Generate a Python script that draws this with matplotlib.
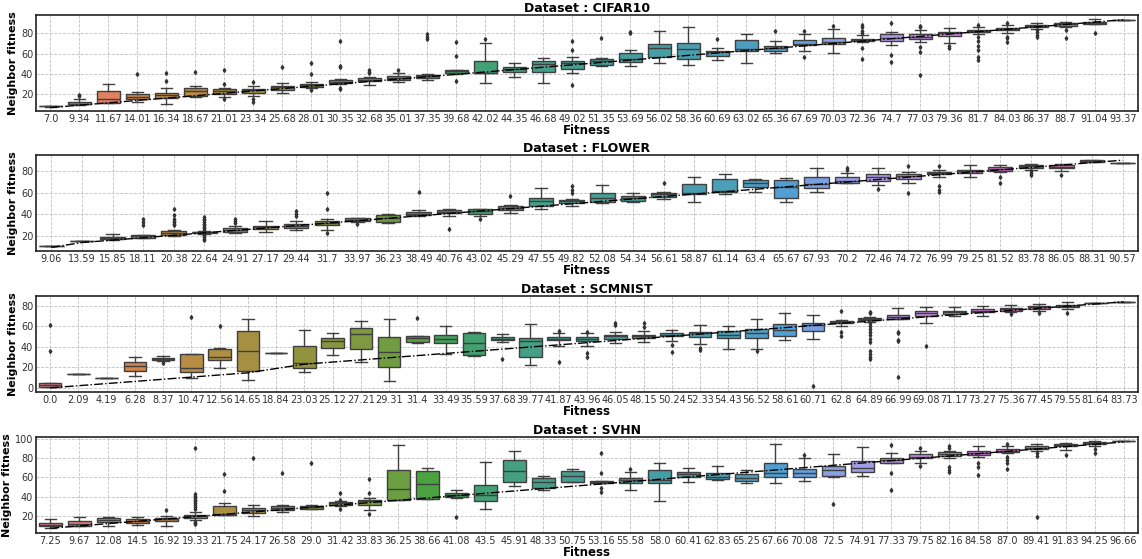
import matplotlib
matplotlib.use("Agg")
import matplotlib.pyplot as plt
import colorsys
import seaborn as sns

# ---------------- CIFAR10 ----------------
cifar_labels = ["7.0", "9.34", "11.67", "14.01", "16.34", "18.67", "21.01", "23.34", "25.68", "28.01",
                "30.35", "32.68", "35.01", "37.35", "39.68", "42.02", "44.35", "46.68", "49.02", "51.35",
                "53.69", "56.02", "58.36", "60.69", "63.02", "65.36", "67.69", "70.03", "72.36", "74.7",
                "77.03", "79.36", "81.7", "84.03", "86.37", "88.7", "91.04", "93.37"]
cifar_q1 = [8.3, 10.2, 11.1, 15.4, 16.1, 18.0, 20.0, 21.6, 24.3, 26.9, 30.8, 33.0, 34.0, 36.4, 41.3, 40.7,
            42.3, 42.0, 45.0, 48.5, 51.8, 56.4, 55.0, 58.0, 63.0, 63.0, 68.5, 69.8, 72.1, 72.8, 74.8, 77.7,
            81.3, 83.0, 85.9, 87.5, 89.5, 93.1]
cifar_med = [8.5, 10.8, 15.0, 17.7, 19.0, 23.3, 23.6, 24.3, 26.9, 28.9, 32.5, 34.4, 36.0, 38.0, 42.6, 41.0,
             44.6, 49.8, 51.0, 53.1, 54.4, 65.2, 64.3, 61.3, 64.6, 65.9, 69.8, 71.1, 73.4, 75.7, 76.7, 80.0,
             82.6, 84.3, 87.2, 88.9, 90.2, 93.2]
cifar_q3 = [8.7, 12.5, 23.6, 20.0, 21.3, 25.9, 25.2, 25.6, 28.2, 30.2, 33.8, 36.0, 37.7, 39.3, 43.6, 53.1,
            46.6, 52.5, 52.8, 54.4, 60.3, 69.8, 70.2, 63.0, 73.1, 67.9, 73.1, 75.1, 74.8, 79.3, 79.0, 81.6,
            83.6, 85.2, 88.2, 89.8, 90.8, 93.3]
cifar_lo = [8.0, 10.0, 11.0, 12.8, 10.2, 17.7, 17.7, 18.7, 21.0, 26.6, 29.8, 29.0, 32.5, 34.4, 40.0, 30.8,
            37.4, 30.8, 40.7, 48.2, 47.9, 50.5, 48.5, 53.4, 50.5, 60.3, 62.6, 61.0, 71.8, 68.5, 71.0, 70.8,
            79.0, 80.0, 84.3, 86.6, 89.2, 93.0]
cifar_hi = [9.0, 15.0, 29.8, 22.0, 25.9, 27.9, 26.0, 27.9, 30.8, 31.8, 34.8, 37.4, 40.7, 40.0, 44.0, 70.8,
            50.5, 55.4, 56.4, 55.4, 63.6, 82.6, 86.6, 65.9, 79.7, 72.5, 79.0, 84.0, 78.4, 81.6, 83.3, 85.2,
            86.6, 87.9, 89.8, 90.8, 94.0, 93.4]
cifar_fliers = [[], [18.7, 19.7], [], [40.0], [40.7, 33.0], [41.6], [44.0, 30.0, 15.7], [31.8, 15.0, 12.8],
                [46.9], [51.0, 40.0, 24.3], [72.0, 47.9, 47.2, 26.6, 25.0], [44.0, 42.0, 40.7], [44.0],
                [79.0, 76.7, 74.4], [71.8, 57.7, 33.4], [74.8], [], [], [72.8, 63.6, 29.0], [75.7],
                [81.0, 80.0], [], [], [74.8], [], [82.6], [82.3, 57.0], [87.5],
                [88.5, 86.6, 82.6, 80.0, 65.2, 54.4], [89.8, 58.7, 52.1], [87.2, 85.9, 66.9, 62.0, 39.0],
                [68.0, 66.0], [88.5, 76.7, 72.0, 68.0, 64.0, 57.0, 53.8], [90.5, 76.7, 75.0, 71.8],
                [83.3, 81.0, 78.4, 76.7], [83.3, 75.0], [80.0], []]

# ---------------- FLOWER ----------------
flower_labels = ["9.06", "13.59", "15.85", "18.11", "20.38", "22.64", "24.91", "27.17", "29.44", "31.7",
                 "33.97", "36.23", "38.49", "40.76", "43.02", "45.29", "47.55", "49.82", "52.08", "54.34",
                 "56.61", "58.87", "61.14", "63.4", "65.67", "67.93", "70.2", "72.46", "74.72", "76.99",
                 "79.25", "81.52", "83.78", "86.05", "88.31", "90.57"]
flower_q1 = [10.8, 14.9, 16.5, 18.0, 20.9, 22.6, 23.4, 26.2, 27.2, 29.7, 33.8, 32.8, 39.4, 41.3, 40.7, 43.8,
             47.9, 50.8, 51.7, 52.6, 55.8, 58.9, 61.1, 65.2, 54.8, 64.9, 69.6, 71.5, 72.8, 77.2, 78.4, 80.0,
             83.1, 83.1, 89.1, 87.5]
flower_med = [10.8, 14.9, 17.4, 19.3, 22.5, 23.0, 25.0, 28.1, 29.0, 32.2, 34.7, 36.9, 40.7, 42.3, 43.2, 46.0,
              52.3, 52.0, 54.8, 55.5, 58.9, 59.6, 62.0, 69.6, 65.8, 68.0, 71.5, 75.3, 75.9, 78.4, 80.0, 82.2,
              84.7, 84.1, 89.7, 87.5]
flower_q3 = [10.8, 14.9, 18.7, 20.6, 24.0, 23.4, 26.9, 29.4, 30.6, 33.8, 36.6, 39.4, 42.3, 43.8, 44.8, 47.9,
             54.8, 53.3, 59.6, 57.4, 60.2, 68.7, 72.8, 71.8, 72.1, 74.7, 74.7, 77.2, 77.8, 79.7, 81.6, 84.1,
             85.7, 85.7, 90.4, 87.5]
flower_lo = [10.8, 14.9, 16.2, 17.5, 19.6, 22.0, 22.5, 23.4, 25.0, 25.6, 32.8, 31.9, 38.2, 38.8, 38.2, 41.3,
             44.5, 47.6, 50.8, 51.4, 54.5, 51.1, 58.9, 60.5, 51.7, 61.1, 69.0, 67.4, 69.0, 75.3, 74.7, 79.4,
             81.6, 80.9, 88.8, 87.5]
flower_hi = [10.8, 14.9, 21.8, 21.0, 25.0, 24.0, 28.7, 33.5, 33.5, 35.3, 36.9, 40.0, 43.8, 44.5, 45.4, 48.6,
             64.3, 53.9, 67.4, 59.6, 60.8, 75.3, 77.5, 73.4, 73.7, 83.1, 79.0, 82.8, 79.7, 81.6, 85.7, 86.0,
             86.9, 87.2, 90.6, 87.5]
flower_fliers = [[], [], [], [35.7, 32.5, 29.7], [44.5, 39.0, 36.0, 34.0, 33.0, 31.0, 30.0],
                 [37.5, 36.0, 35.0, 33.0, 31.0, 30.0, 28.0, 27.0, 25.0, 21.0, 19.0, 17.0, 16.0],
                 [35.3, 33.8, 32.2], [], [42.9, 40.7, 38.2], [60.2, 44.5, 22.5], [30.6], [], [60.8], [25.9],
                 [35.3], [57.0], [], [66.2, 63.0, 60.2], [], [], [69.0], [], [], [], [], [], [83.0, 81.6],
                 [63.3], [85.3, 60.2], [84.7, 66.0, 63.0, 61.0], [], [74.7, 69.6], [80.0, 78.4, 76.9],
                 [76.9], [], []]

# ---------------- SCMNIST ----------------
scm_labels = ["0.0", "2.09", "4.19", "6.28", "8.37", "10.47", "12.56", "14.65", "18.84", "23.03", "25.12",
              "27.21", "29.31", "31.4", "33.49", "35.59", "37.68", "39.77", "41.87", "43.96", "46.05",
              "48.15", "50.24", "52.33", "54.43", "56.52", "58.61", "60.71", "62.8", "64.89", "66.99",
              "69.08", "71.17", "73.27", "75.36", "77.45", "79.55", "81.64", "83.73"]
scm_q1 = [1.0, 13.5, 9.4, 16.8, 27.4, 15.2, 26.8, 16.1, 33.5, 19.4, 38.4, 38.0, 20.3, 44.5, 43.5, 31.9, 46.1,
          30.0, 46.1, 45.2, 47.4, 48.7, 50.0, 49.4, 48.4, 48.4, 50.0, 55.8, 62.9, 66.1, 67.4, 70.0, 71.9,
          73.5, 75.2, 77.1, 78.4, 82.3, 83.5]
scm_med = [2.9, 13.5, 9.4, 21.6, 28.0, 19.4, 29.7, 36.1, 33.5, 24.2, 45.5, 52.6, 34.5, 48.4, 47.4, 43.5, 47.7,
           45.2, 48.0, 48.0, 50.0, 50.6, 51.9, 53.2, 51.3, 53.2, 56.5, 61.3, 64.2, 67.1, 68.7, 72.6, 73.5,
           75.2, 76.5, 78.4, 79.7, 82.6, 83.5]
scm_q3 = [4.5, 13.5, 9.4, 25.5, 28.7, 32.9, 37.7, 55.8, 33.5, 40.3, 49.0, 58.0, 49.4, 50.0, 51.0, 53.5, 49.4,
          48.4, 49.4, 49.4, 51.3, 51.6, 53.2, 54.8, 55.8, 56.8, 61.9, 63.5, 65.5, 67.7, 71.0, 75.2, 75.2,
          76.5, 77.7, 79.7, 81.0, 82.9, 83.5]
scm_lo = [1.0, 13.5, 9.4, 11.3, 26.5, 9.7, 19.4, 8.1, 33.5, 15.2, 31.9, 24.8, 7.1, 44.0, 33.2, 31.3, 44.2,
          22.6, 40.3, 40.3, 43.2, 44.2, 45.8, 42.9, 37.7, 37.7, 46.8, 47.4, 60.3, 64.5, 66.8, 62.9, 70.0,
          70.0, 73.5, 75.2, 76.5, 82.3, 83.5]
scm_hi = [4.8, 13.5, 9.4, 30.0, 31.0, 32.9, 38.7, 67.4, 33.5, 56.5, 53.2, 64.8, 67.0, 50.5, 60.0, 54.8, 52.3,
          62.3, 53.2, 53.2, 54.8, 55.5, 56.5, 61.0, 60.0, 66.8, 72.6, 71.3, 66.0, 69.4, 77.4, 78.4, 78.4,
          80.0, 81.0, 82.0, 83.9, 82.9, 83.5]
scm_fliers = [[61.5, 36.0], [], [], [], [24.2], [68.7], [60.0], [], [], [], [], [], [], [67.7], [], [],
              [28.0], [], [55.5, 24.8], [54.8, 33.9, 30.0], [63.5, 61.0], [63.2, 59.7], [42.0, 34.5],
              [38.4, 36.5], [], [35.5], [], [1.6], [74.8, 54.8, 50.0],
              [74.2, 72.6, 62.9, 60.0, 57.0, 54.0, 51.0, 48.0, 45.0, 36.0, 33.0, 30.0, 28.0],
              [54.8, 53.2, 46.8, 45.2, 10.6], [40.3], [], [], [71.6], [72.6], [73.2], [], []]

# ---------------- SVHN ----------------
svhn_labels = ["7.25", "9.67", "12.08", "14.5", "16.92", "19.33", "21.75", "24.17", "26.58", "29.0", "31.42",
               "33.83", "36.25", "38.66", "41.08", "43.5", "45.91", "48.33", "50.75", "53.16", "55.58", "58.0",
               "60.41", "62.83", "65.25", "67.66", "70.08", "72.5", "74.91", "77.33", "79.75", "82.16",
               "84.58", "87.0", "89.41", "91.83", "94.25", "96.66"]
svhn_q1 = [9.2, 9.9, 13.4, 12.7, 14.8, 18.3, 21.4, 23.1, 25.9, 27.7, 31.5, 31.1, 37.0, 37.4, 39.8, 35.3, 55.5,
           48.5, 54.8, 53.7, 53.7, 53.7, 60.0, 57.9, 56.2, 60.0, 60.7, 61.4, 65.2, 75.3, 79.8, 82.6, 83.3,
           86.1, 89.2, 92.0, 94.1, 97.2]
svhn_med = [11.0, 12.0, 15.5, 14.8, 16.9, 19.7, 22.4, 25.9, 28.7, 29.4, 32.9, 35.0, 47.8, 52.7, 41.9, 41.6,
            67.0, 55.5, 61.4, 55.5, 57.2, 57.2, 63.1, 60.7, 59.7, 64.9, 64.9, 67.7, 69.4, 78.1, 81.6, 84.7,
            85.7, 87.8, 90.6, 93.4, 95.1, 97.2]
svhn_q3 = [12.7, 14.8, 18.3, 16.9, 18.3, 21.4, 30.4, 28.7, 30.1, 30.8, 34.3, 36.3, 67.7, 66.6, 43.3, 51.7,
           78.1, 59.0, 67.0, 56.2, 59.0, 67.7, 65.2, 64.2, 63.1, 74.6, 68.3, 71.8, 77.4, 80.5, 84.0, 86.1,
           87.8, 89.6, 92.0, 94.4, 96.2, 97.2]
svhn_lo = [7.8, 9.2, 9.2, 10.3, 9.9, 15.5, 20.7, 20.0, 24.2, 27.7, 30.1, 25.9, 36.3, 37.4, 39.1, 27.7, 51.0,
           46.8, 54.8, 53.7, 46.8, 35.3, 54.8, 57.2, 54.4, 53.7, 56.2, 60.7, 61.4, 74.6, 75.3, 80.5, 80.9,
           85.0, 86.8, 88.5, 92.0, 97.2]
svhn_hi = [17.2, 19.3, 19.0, 19.0, 20.0, 24.2, 33.9, 31.8, 31.5, 31.5, 35.3, 39.1, 93.7, 69.4, 46.8, 76.3,
           87.5, 61.7, 68.3, 56.2, 65.9, 75.0, 69.4, 71.5, 67.7, 94.8, 79.8, 84.0, 91.3, 85.0, 86.8, 87.8,
           93.0, 92.7, 94.8, 95.5, 97.9, 97.2]
svhn_fliers = [[], [], [], [], [25.9],
               [90.3, 43.0, 41.0, 39.0, 37.0, 35.0, 33.0, 31.0, 29.0, 27.0, 14.0, 13.0, 12.0],
               [63.5, 45.7], [79.8], [64.5], [75.0], [44.0, 37.0, 27.7], [58.6, 43.3, 22.4], [], [], [19.0],
               [], [], [], [], [85.7, 64.9, 48.5, 45.0], [68.7], [], [], [], [], [], [83.3], [32.2], [],
               [94.0, 64.9, 46.8], [90.3, 71.8], [92.7, 90.3, 71.1, 67.7, 65.9], [74.6, 71.1, 62.4],
               [94.8, 80.9, 78.1, 75.3, 68.3], [85.0, 82.6, 19.0], [83.3], [89.2, 85.0], []]

panels = [
    ("CIFAR10", cifar_labels, cifar_q1, cifar_med, cifar_q3, cifar_lo, cifar_hi, cifar_fliers),
    ("FLOWER", flower_labels, flower_q1, flower_med, flower_q3, flower_lo, flower_hi, flower_fliers),
    ("SCMNIST", scm_labels, scm_q1, scm_med, scm_q3, scm_lo, scm_hi, scm_fliers),
    ("SVHN", svhn_labels, svhn_q1, svhn_med, svhn_q3, svhn_lo, svhn_hi, svhn_fliers),
]
ylims = [(3.6, 98.0), (5.7, 95.4), (-4.0, 89.4), (2.3, 101.8)]
yticks = [[20, 40, 60, 80], [20, 40, 60, 80], [0, 20, 40, 60, 80], [20, 40, 60, 80, 100]]
bottoms = [0.8014, 0.551, 0.2988, 0.0465]

fig = plt.figure(figsize=(11.42, 5.59), dpi=100)

for (name, labels, q1, med, q3, lo, hi, fl), ylim, yt, b in zip(panels, ylims, yticks, bottoms):
    ax = fig.add_axes([0.0315, b, 0.965, 0.1717])
    n = len(labels)
    pal = [sns.desaturate(c, 0.75) for c in sns.husl_palette(n, h=0.01, s=0.9, l=0.65)]
    lum = min(colorsys.rgb_to_hls(*c)[1] for c in pal) * 0.6
    gray = (lum, lum, lum)

    stats = [dict(q1=q1[i], med=med[i], q3=q3[i], whislo=lo[i], whishi=hi[i], fliers=fl[i])
             for i in range(n)]
    parts = ax.bxp(stats, positions=list(range(n)), widths=0.8, patch_artist=True,
                   boxprops=dict(edgecolor=gray, linewidth=1.0),
                   medianprops=dict(color=gray, linewidth=1.0),
                   whiskerprops=dict(color=gray, linewidth=1.0),
                   capprops=dict(color=gray, linewidth=1.0),
                   flierprops=dict(marker="d", markersize=2.0, markerfacecolor="#333333",
                                   markeredgecolor="#333333", linestyle="none"))
    for box, c in zip(parts["boxes"], pal):
        box.set_facecolor(c)

    ax.plot(range(n), [float(s) for s in labels], color="black", linestyle="-.",
            linewidth=1.0, zorder=5)

    ax.set_xlim(-0.5, n - 0.5)
    ax.set_ylim(*ylim)
    ax.set_yticks(yt)
    ax.set_xticks(range(n))
    ax.set_xticklabels(labels)
    ax.tick_params(axis="both", length=0, pad=2, labelsize=7, colors="#333333")
    ax.set_axisbelow(True)
    ax.grid(True, linestyle="--", color="#c0c0c0", linewidth=0.6)
    for sp in ax.spines.values():
        sp.set_color("#222222")
        sp.set_linewidth(1.2)
    ax.set_title(f"Dataset : {name}", fontsize=9, fontweight="bold", pad=2)
    ax.set_xlabel("Fitness", fontsize=8.5, fontweight="bold", labelpad=0)
    ax.set_ylabel("Neighbor fitness", fontsize=8, fontweight="bold", labelpad=2)

fig.savefig("out.png", dpi=100, facecolor="white")
